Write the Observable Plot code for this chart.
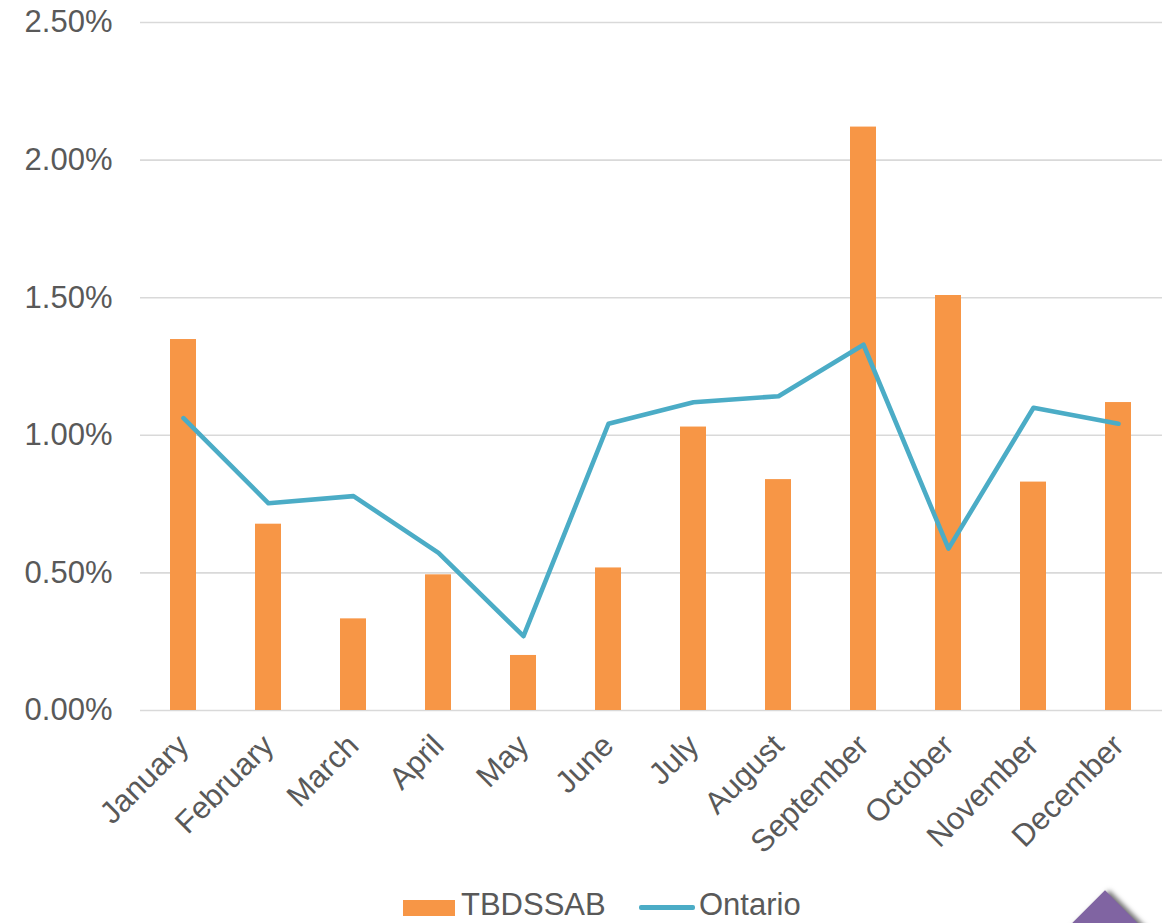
<!DOCTYPE html>
<html>
<head>
<meta charset="utf-8">
<script src="https://cdn.jsdelivr.net/npm/d3@7"></script>
<script src="https://cdn.jsdelivr.net/npm/@observablehq/plot@0.6"></script>
<style>
  html, body { margin: 0; padding: 0; background: #fff; }
  #wrap { position: relative; width: 1176px; height: 923px; overflow: hidden; font-family: "Liberation Sans", Arial, sans-serif; color: #595959; }
  #chart { position: absolute; left: 0; top: 0; }
  .leg { position: absolute; font-size: 31px; line-height: 31px; white-space: nowrap; }
  #deco { position: absolute; width: 100px; height: 100px; background: #8064A2; left: 1055px; top: 910.7px; transform: rotate(45deg); box-shadow: 3px -3px 5px rgba(0,0,0,0.55); }
</style>
</head>
<body>
<div id="wrap">
  <div id="chart"></div>
  <div class="leg" style="left:403px; top:900px; width:52px; height:16px; background:#F79646;"></div>
  <div class="leg" style="left:461px; top:889px;">TBDSSAB</div>
  <div class="leg" style="left:639px; top:905px; width:56px; height:4.5px; border-radius:2px; background:#4BACC6;"></div>
  <div class="leg" style="left:699px; top:889px;">Ontario</div>
  <div id="deco"></div>
</div>
<script>
const months = ["January","February","March","April","May","June","July","August","September","October","November","December"];
const tbdssab = [1.348, 0.677, 0.333, 0.493, 0.200, 0.518, 1.030, 0.839, 2.120, 1.508, 0.830, 1.119];
const ontario = [1.062, 0.753, 0.779, 0.573, 0.270, 1.042, 1.120, 1.142, 1.329, 0.588, 1.100, 1.042];
const yTicks = [0, 0.5, 1.0, 1.5, 2.0, 2.5];

const data = months.map((m, i) => ({month: m, tbdssab: tbdssab[i], ontario: ontario[i]}));

const chart = Plot.plot({
  width: 1176,
  height: 870,
  marginLeft: 140,
  marginRight: 14,
  marginTop: 22,
  marginBottom: 160,
  style: {fontFamily: '"Liberation Sans", Arial, sans-serif', fontSize: "31px", color: "#595959", background: "transparent", overflow: "visible"},
  x: {type: "band", domain: months, paddingInner: 0.69, paddingOuter: 0.345, label: null},
  y: {domain: [0, 2.5], label: null},
  marks: [
    Plot.gridY(yTicks, {stroke: "#d9d9d9", strokeOpacity: 1, strokeWidth: 1.6}),
    Plot.axisY(yTicks, {tickSize: 0, tickPadding: 28, tickFormat: d => d.toFixed(2) + "%", fontSize: 31, label: null}),
    Plot.axisX({tickRotate: -45, tickSize: 0, tickPadding: 30, fontSize: 31, label: null}),
    Plot.barY(data, {x: "month", y: "tbdssab", fill: "#F79646"}),
    Plot.lineY(data, {x: "month", y: "ontario", stroke: "#4BACC6", strokeWidth: 4.6, strokeLinecap: "round", strokeLinejoin: "round"})
  ]
});
document.getElementById("chart").appendChild(chart);
</script>
</body>
</html>
